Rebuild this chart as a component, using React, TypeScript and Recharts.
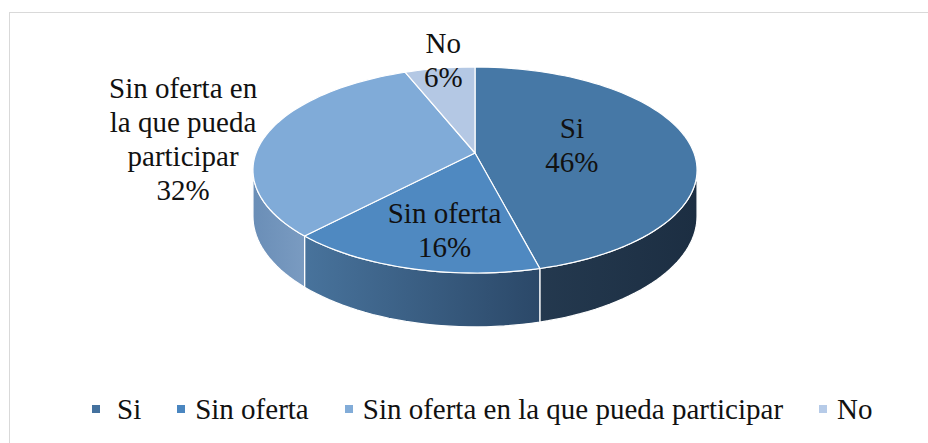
import React from 'react'
import { PieChart, Pie, Legend } from 'recharts'

const CATEGORIES = ['Si', 'Sin oferta', 'Sin oferta en la que pueda participar', 'No']
const PERCENTS = [46, 16, 32, 6]
// how the category names wrap inside the chart
const LABEL_NAME_LINES = [['Si'], ['Sin oferta'], ['Sin oferta en', 'la que pueda', 'participar'], ['No']]

const TOP_COLORS = ['#4678a6', '#4f89c1', '#80abd8', '#b4c8e4']
const WALL_COLORS = [
  ['#24394f', '#1c2e42'],
  ['#48739c', '#2b4868'],
  ['#6a8eb7', '#7a9bc1'],
  ['#8ea6c4', '#8ea6c4'],
]
const LEGEND_COLORS = ['#44719e', '#4a86c0', '#82acd8', '#b6cbe8']

const FONT = '"Liberation Serif", "Times New Roman", serif'

// fake 3d: tilt of the disc, perspective strength and thickness of the pie
const TILT = 0.4575
const PERSP = 0.165
const DEPTH = 45
const EDGE = (Math.asin(PERSP) * 180) / Math.PI

// label placement along the mid angle (fraction of radius) plus a nudge
const LABEL_LAYOUT = [
  { f: 0.45, dx: 0, dy: -2 },
  { f: 0.62, dx: 7, dy: 10 },
  { f: 1.2, dx: -43, dy: 8 },
  { f: 1.15, dx: 8, dy: 2 },
]

const data = CATEGORIES.map((name, i) => ({ name, value: PERCENTS[i] }))

function project(cx: number, cy: number, r: number, angle: number, f = 1, drop = 0) {
  const a = (angle * Math.PI) / 180
  const u = f * Math.cos(a)
  const v = f * Math.sin(a)
  const w = 1 + PERSP * v
  return [cx + (r * u) / w, cy - (r * TILT * v) / w + drop / w]
}

function arc(cx: number, cy: number, r: number, a0: number, a1: number, drop: number) {
  const steps = Math.max(2, Math.ceil(Math.abs(a1 - a0) / 2))
  const pts: string[] = []
  for (let i = 0; i <= steps; i++) {
    const [x, y] = project(cx, cy, r, a0 + ((a1 - a0) * i) / steps, 1, drop)
    pts.push(`${x.toFixed(2)},${y.toFixed(2)}`)
  }
  return pts
}

function renderWall(props: any) {
  const { cx, cy, outerRadius, startAngle, endAngle, index } = props
  const lo = Math.max(Math.min(startAngle, endAngle), -180 + EDGE)
  const hi = Math.min(Math.max(startAngle, endAngle), -EDGE)
  if (hi <= lo) return <g key={`wall-${index}`} />
  const top = arc(cx, cy, outerRadius, hi, lo, 0)
  const bottom = arc(cx, cy, outerRadius, lo, hi, DEPTH)
  const id = `wall-grad-${index}`
  return (
    <g key={`wall-${index}`}>
      <defs>
        <linearGradient id={id} x1='0' y1='0' x2='1' y2='0'>
          <stop offset='0%' stopColor={WALL_COLORS[index][0]} />
          <stop offset='100%' stopColor={WALL_COLORS[index][1]} />
        </linearGradient>
      </defs>
      <path
        d={`M${top.join('L')}L${bottom.join('L')}Z`}
        fill={`url(#${id})`}
        stroke='#fff'
        strokeWidth={1.2}
      />
    </g>
  )
}

function renderTop(props: any) {
  const { cx, cy, outerRadius, startAngle, endAngle, index } = props
  const pts = arc(cx, cy, outerRadius, startAngle, endAngle, 0)
  return (
    <path
      key={`top-${index}`}
      d={`M${cx},${cy}L${pts.join('L')}Z`}
      fill={TOP_COLORS[index]}
      stroke='#fff'
      strokeWidth={1.2}
      strokeLinejoin='round'
    />
  )
}

function renderText(props: any) {
  const { cx, cy, outerRadius, midAngle, percent, index } = props
  const lay = LABEL_LAYOUT[index]
  const [x, y] = project(cx, cy, outerRadius, midAngle, lay.f)
  const lines = [...LABEL_NAME_LINES[index], `${Math.round(percent * 100)}%`]
  const base = y + lay.dy + 10
  return (
    <text
      key={`text-${index}`}
      x={x + lay.dx}
      textAnchor='middle'
      fontFamily={FONT}
      fontSize={29}
      fill='#111'
    >
      {lines.map((line, i) => (
        <tspan key={i} x={x + lay.dx} y={base + (i - (lines.length - 1) / 2) * 34}>
          {line}
        </tspan>
      ))}
    </text>
  )
}

function renderLegend() {
  return (
    <div
      style={{
        display: 'flex',
        alignItems: 'center',
        fontFamily: FONT,
        fontSize: 29,
        lineHeight: '32px',
        color: '#111',
        whiteSpace: 'nowrap',
      }}
    >
      {CATEGORIES.map((name, i) => (
        <div key={name} style={{ display: 'flex', alignItems: 'center', marginRight: 36 }}>
          <span
            style={{
              display: 'inline-block',
              width: 8,
              height: 8,
              background: LEGEND_COLORS[i],
              marginRight: i === 0 ? 17 : 10,
            }}
          />
          <span>{name}</span>
        </div>
      ))}
    </div>
  )
}

export default function App() {
  const pieProps = {
    data,
    dataKey: 'value',
    nameKey: 'name',
    cx: 475,
    cy: 153,
    outerRadius: 219,
    startAngle: 90,
    endAngle: -270,
    fill: 'none',
    stroke: 'none',
    labelLine: false,
    isAnimationActive: false,
  }
  return (
    <div
      style={{
        position: 'absolute',
        left: 0,
        top: 0,
        width: 928,
        height: 443,
        overflow: 'hidden',
        background: '#fff',
      }}
    >
      <div
        style={{
          position: 'absolute',
          left: 9,
          top: 12,
          width: 1200,
          height: 800,
          border: '1px solid #d9d9d9',
        }}
      />
      <div style={{ position: 'absolute', left: 0, top: 0 }}>
        <PieChart width={928} height={443} margin={{ top: 0, right: 0, bottom: 0, left: 0 }}>
          <Pie {...pieProps} label={renderWall} legendType='none' />
          <Pie {...pieProps} label={renderTop} legendType='none' />
          <Pie {...pieProps} label={renderText} legendType='none' />
          <Legend
            content={renderLegend}
            wrapperStyle={{ left: 92, top: 393, width: 836 }}
          />
        </PieChart>
      </div>
    </div>
  )
}
